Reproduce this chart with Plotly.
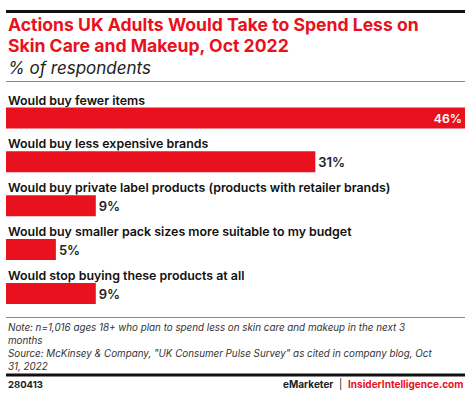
import plotly.graph_objects as go

categories = [
    "Would buy fewer items",
    "Would buy less expensive brands",
    "Would buy private label products (products with retailer brands)",
    "Would buy smaller pack sizes more suitable to my budget",
    "Would stop buying these products at all",
]
values = [46, 31, 9, 5, 9]
value_labels = [f"{v}%" for v in values]

title_lines = ["Actions UK Adults Would Take to Spend Less on",
               "Skin Care and Makeup, Oct 2022"]
subtitle = "% of respondents"
note_lines = [
    "Note: n=1,016 ages 18+ who plan to spend less on skin care and makeup in the next 3",
    "months",
    "Source: McKinsey &amp; Company, \"UK Consumer Pulse Survey\" as cited in company blog, Oct",
    "31, 2022",
]
chart_id = "280413"

RED = "#E8111D"
W, H = 470, 395

BAR0_Y, BAR_STEP = 118, 43.875
X0, PX_PER_UNIT = 6, 459 / 46
y_range = [(H - BAR0_Y) / BAR_STEP, (0 - BAR0_Y) / BAR_STEP]
x_range = [(0 - X0) / PX_PER_UNIT, (W - X0) / PX_PER_UNIT]


def px_x(X):
    return X / W


def px_y(Y):
    return (H - Y) / H


ypos = list(range(len(categories)))
textpos = ["inside" if v == max(values) else "outside" for v in values]
textcol = ["white" if v == max(values) else "#222222" for v in values]

fig = go.Figure()
fig.add_trace(go.Bar(
    x=values, y=ypos, orientation="h",
    marker=dict(color=RED, line=dict(width=0)),
    width=21 / BAR_STEP,
    text=value_labels, textposition=textpos,
    insidetextanchor="end",
    textfont=dict(family="Inter", size=13, color=textcol, weight=600),
    cliponaxis=False, hoverinfo="skip",
))

annotations = []
for i, c in enumerate(categories):
    annotations.append(dict(
        x=0, y=i, xref="x", yref="y", text=c, showarrow=False,
        xanchor="left", yanchor="middle", yshift=18,
        font=dict(family="Inter", size=12.4, color="#111111", weight=600),
    ))

for line, yc in zip(title_lines, [24.5, 45]):
    annotations.append(dict(
        x=px_x(6), y=px_y(yc), xref="paper", yref="paper", text=line,
        showarrow=False, xanchor="left", yanchor="middle",
        font=dict(family="Inter", size=17.6, color=RED, weight=700),
    ))
annotations.append(dict(
    x=px_x(6), y=px_y(68), xref="paper", yref="paper",
    text=f"<i>{subtitle}</i>", showarrow=False, xanchor="left", yanchor="middle",
    font=dict(family="Inter", size=17, color="#222222"),
))
for line, yc in zip(note_lines, [327, 340, 353, 366]):
    annotations.append(dict(
        x=px_x(6), y=px_y(yc), xref="paper", yref="paper", text=f"<i>{line}</i>",
        showarrow=False, xanchor="left", yanchor="middle",
        font=dict(family="Inter", size=9.8, color="#333333"),
    ))
annotations.append(dict(
    x=px_x(6), y=px_y(384), xref="paper", yref="paper",
    text=f"<b>{chart_id}</b>", showarrow=False, xanchor="left", yanchor="middle",
    font=dict(family="Inter", size=9.5, color="#222222"),
))
annotations.append(dict(
    x=px_x(465), y=px_y(384), xref="paper", yref="paper",
    text="<b>eMarketer</b>  |  <b><span style='color:" + RED + "'>InsiderIntelligence.com</span></b>",
    showarrow=False, xanchor="right", yanchor="middle",
    font=dict(family="Inter", size=10, color="#222222"),
))

shapes = [
    dict(type="rect", xref="paper", yref="paper", x0=px_x(6), x1=px_x(465),
         y0=px_y(13), y1=px_y(10), line=dict(width=0), fillcolor="#111111",
         layer="above"),
    dict(type="line", xref="paper", yref="paper", x0=px_x(6), x1=px_x(465),
         y0=px_y(81.5), y1=px_y(81.5), line=dict(color="#888888", width=1)),
    dict(type="line", xref="paper", yref="paper", x0=px_x(6), x1=px_x(465),
         y0=px_y(317.5), y1=px_y(317.5), line=dict(color="#888888", width=1)),
    dict(type="rect", xref="paper", yref="paper", x0=px_x(6), x1=px_x(465),
         y0=px_y(376.5), y1=px_y(373.5), line=dict(width=0), fillcolor="#111111",
         layer="above"),
]

fig.update_layout(
    width=W, height=H,
    margin=dict(l=0, r=0, t=0, b=0, pad=0),
    paper_bgcolor="white", plot_bgcolor="white",
    showlegend=False,
    xaxis=dict(range=x_range, visible=False, fixedrange=True),
    yaxis=dict(range=y_range, visible=False, fixedrange=True),
    annotations=annotations, shapes=shapes,
)

fig.write_html("out.html", config={"displayModeBar": False},
               post_script="document.body.style.margin='0';")
